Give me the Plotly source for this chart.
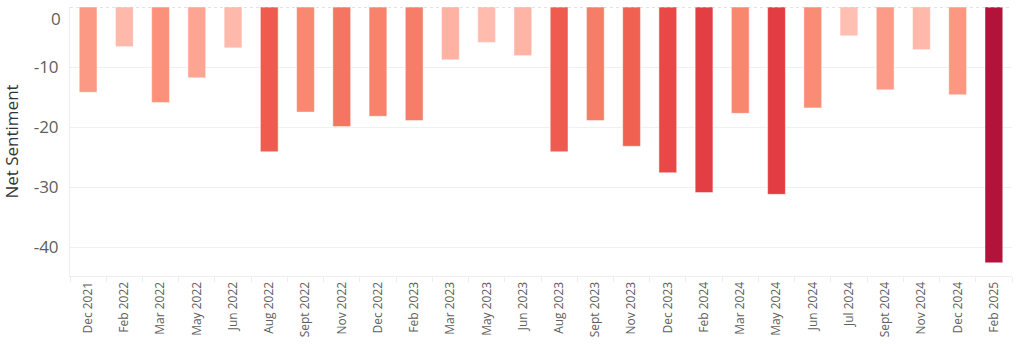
import plotly.graph_objects as go

months = ["Dec 2021", "Feb 2022", "Mar 2022", "May 2022", "Jun 2022", "Aug 2022",
          "Sept 2022", "Nov 2022", "Dec 2022", "Feb 2023", "Mar 2023", "May 2023",
          "Jun 2023", "Aug 2023", "Sept 2023", "Nov 2023", "Dec 2023", "Feb 2024",
          "Mar 2024", "May 2024", "Jun 2024", "Jul 2024", "Sept 2024", "Nov 2024",
          "Dec 2024", "Feb 2025"]
net_sentiment = [-14.2, -6.6, -15.9, -11.8, -6.8, -24.1,
                 -17.5, -19.9, -18.2, -18.9, -8.8, -5.9,
                 -8.1, -24.1, -18.9, -23.2, -27.6, -30.9,
                 -17.7, -31.2, -16.8, -4.8, -13.8, -7.1,
                 -14.6, -42.6]

y_ticks = [-10, -20, -30, -40]
zero_label = "0"

colorscale = [
    [0.0, "#B0123A"],
    [0.28, "#E03A42"],
    [0.42, "#EC4B47"],
    [0.52, "#F06452"],
    [0.60, "#F47764"],
    [0.66, "#FA8A72"],
    [0.75, "#FC9B87"],
    [0.87, "#FFB1A2"],
    [1.0, "#FFC2B5"],
]

fig = go.Figure(go.Bar(
    x=months,
    y=net_sentiment,
    width=0.49,
    marker=dict(
        color=net_sentiment,
        colorscale=colorscale,
        cmin=-43,
        cmax=-4,
        line=dict(color="rgba(255,255,255,0.45)", width=1),
    ),
))

fig.add_shape(type="line", xref="paper", yref="y", x0=0, x1=1, y0=0, y1=0,
              line=dict(color="#C8C8C8", width=1, dash="dot"), layer="above")

fig.add_annotation(text=zero_label, xref="paper", yref="y", x=0, y=0,
                   xanchor="right", yanchor="middle", xshift=-7, yshift=-11,
                   showarrow=False, font=dict(size=17, color="#605E5C"))

font_family = "Segoe UI, Open Sans, DejaVu Sans, sans-serif"

fig.update_layout(
    width=1022, height=360,
    margin=dict(l=70, r=10, t=7, b=84),
    paper_bgcolor="white", plot_bgcolor="white",
    showlegend=False,
    font=dict(family=font_family, color="#605E5C"),
)
fig.update_yaxes(
    range=[-44.8, 0],
    tickvals=y_ticks,
    ticktext=[str(v) for v in y_ticks],
    tickfont=dict(size=17, color="#605E5C"),
    title=dict(text="Net Sentiment", font=dict(size=17, color="#333333"), standoff=12),
    automargin=False,
    showgrid=True, gridcolor="#F0F0F0", gridwidth=1,
    zeroline=False,
    showline=True, linecolor="#EEEEEE", linewidth=1,
    ticks="", ticklabelstandoff=7,
)
fig.update_xaxes(
    tickangle=-90,
    tickfont=dict(size=12, color="#605E5C"),
    automargin=False,
    showgrid=False,
    showline=True, linecolor="#EEEEEE", linewidth=1,
    ticks="outside", tickson="boundaries", ticklen=5, tickcolor="#EEEEEE",
)

fig.write_html("out.html", config={"displayModeBar": False},
               post_script="document.body.style.margin='0';")
